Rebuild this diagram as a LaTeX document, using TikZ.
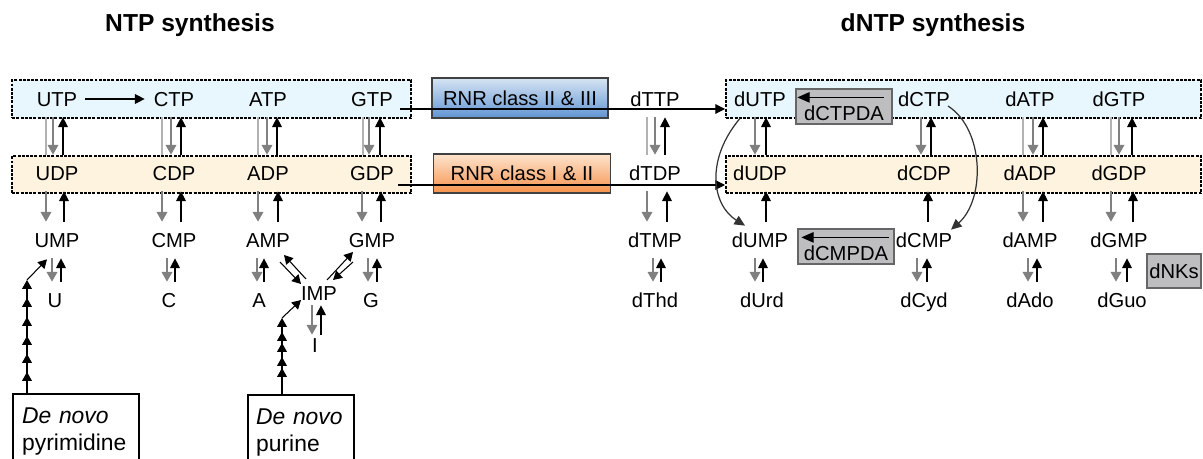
\documentclass[tikz,border=0pt]{standalone}
\usepackage{fontspec}
\setmainfont{Liberation Sans}
\usetikzlibrary{positioning}
\usetikzlibrary{calc}
\usetikzlibrary{arrows.meta}
\def\TriColor{rgb,255:red,232;green,246;blue,253}
\def\DiColor{rgb,255:red,254;green,243;blue,222}
\def\EnzColor{rgb,255:red,190;green,190;blue,192}
\def\BlueTop{rgb,255:red,214;green,228;blue,243}
\def\BlueBot{rgb,255:red,96;green,148;blue,210}
\def\OrangeTop{rgb,255:red,253;green,228;blue,206}
\def\OrangeBot{rgb,255:red,246;green,146;blue,76}

\begin{document}
\begin{tikzpicture}[x=0.02cm,y=-0.02cm,font=\fontsize{11.5}{14}\selectfont]
\tikzstyle{metab} = [inner sep=0pt, minimum height=0.72cm, text height=8.2pt, text depth=0pt]
\tikzstyle{trirow} = [rectangle, draw, fill=\TriColor, dash pattern=on 1.7pt off 0.7pt, line width=1.4pt, anchor=north west, minimum height=0.76cm]
\tikzstyle{dirow} = [rectangle, draw, fill=\DiColor, dash pattern=on 1.7pt off 0.7pt, line width=1.4pt, anchor=north west, minimum height=0.74cm]
\tikzstyle{rnrbox} = [rectangle, draw=black!75, line width=0.6pt, inner sep=0pt]
\tikzstyle{enzbox} = [rectangle, draw=black!60, fill=\EnzColor, line width=0.7pt, inner sep=0pt, minimum width=1.92cm, minimum height=0.7cm, text height=0.58cm, text depth=0pt]
\tikzstyle{denovobox} = [rectangle, draw, line width=1.4pt, anchor=north west, align=left, font=\fontsize{13}{15.3}\selectfont, inner ysep=0.27cm]
\tikzstyle{titletext} = [font=\fontsize{14}{16}\selectfont\bfseries]
\tikzstyle{connector} = [draw=black, line width=0.6pt, -{Triangle[length=5.5pt,width=5.5pt]}]
\tikzstyle{backarrow} = [draw=black!50, line width=0.9pt, -{Triangle[length=5.5pt,width=6pt]}]
\tikzstyle{sideline} = [draw=black!30, line width=0.8pt]
\tikzstyle{stackarrow} = [draw=black, line width=0.6pt, -{Triangle[length=5pt,width=5.5pt]}]
\tikzstyle{loopy} = [draw=black!80, line width=0.7pt, -{Triangle[length=6pt,width=5.5pt]}]

\useasboundingbox (0,0) rectangle (1203,459);

\node[titletext] (ntptitle) at (190,25) {NTP synthesis};
\node[titletext] (dntptitle) at (933,25) {dNTP synthesis};

\node[trirow, minimum width=7.98cm] (ntpbox) at (11,79) {};
\node[dirow, minimum width=7.98cm] (ndpbox) at (11,155) {};
\node[trirow, minimum width=9.5cm] (dntpbox) at (725,79) {};
\node[dirow, minimum width=9.5cm] (dndpbox) at (725,155) {};

\node[rnrbox, top color=\BlueTop, bottom color=\BlueBot, minimum width=3.52cm, minimum height=0.8cm] (rnr23) at (520,98) {RNR class II \& III};
\node[rnrbox, top color=\OrangeTop, bottom color=\OrangeBot, minimum width=3.54cm, minimum height=0.78cm] (rnr12) at (522,173.5) {RNR class I \& II};

\foreach \n/\x in {UTP/57,CTP/174,ATP/268,GTP/372,dTTP/655,dUTP/760,dCTP/924,dATP/1030,dGTP/1119}
  \node[metab] (\n) at (\x,99) {\n};
\foreach \n/\x in {UDP/57,CDP/174,ADP/268,GDP/372,dTDP/655,dUDP/760,dCDP/924,dADP/1030,dGDP/1119}
  \node[metab] (\n) at (\x,173) {\n};
\foreach \n/\x in {UMP/57,CMP/174,AMP/268,GMP/372,dTMP/655,dUMP/760,dCMP/924,dAMP/1030,dGMP/1119}
  \node[metab] (\n) at (\x,240) {\n};
\foreach \n/\x in {U/55,C/169,A/259,G/371,dThd/655,dUrd/762,dCyd/924,dAdo/1030,dGuo/1122}
  \node[metab] (\n) at (\x,300) {\n};
\node[metab, minimum height=0.48cm] (IMP) at (319,293) {IMP};
\node[metab, minimum height=0.4cm] (I) at (315,345) {I};

% plain grey lines next to the arrows
\foreach \a/\b/\o in {UTP/UDP/-11,CTP/CDP/-12,ATP/ADP/-10,GTP/GDP/-9,dTTP/dTDP/-8,dATP/dADP/-7,dGTP/dGDP/-8}
  \path[sideline] ($(\a.south)+(\o,0)$) -- ($(\b.north -| \a)+(\o,0)$);

% grey arrows down
\foreach \a/\b/\o in {UTP/UDP/-4,CTP/CDP/-3,ATP/ADP/-1,GTP/GDP/-3,
  UDP/UMP/-11,CDP/CMP/-12,ADP/AMP/-10,GDP/GMP/-10,
  UMP/U/-5,CMP/C/-7,AMP/A/-11,GMP/G/-4,IMP/I/-7,
  dTTP/dTDP/0,dTDP/dTMP/-8,dTMP/dThd/-2,
  dUTP/dUDP/-5,dCTP/dCDP/-3,dATP/dADP/3,dGTP/dGDP/0,
  dADP/dAMP/-7,dGDP/dGMP/-8,
  dUMP/dUrd/-5,dCMP/dCyd/-7,dAMP/dAdo/-2,dGMP/dGuo/-3}
  \path[backarrow] ($(\a.south)+(\o,0)$) -- ($(\b.north -| \a)+(\o,0)$);

% black arrows up
\foreach \a/\b/\o in {UTP/UDP/6,CTP/CDP/7,ATP/ADP/9,GTP/GDP/8,
  UDP/UMP/7,CDP/CMP/7,ADP/AMP/10,GDP/GMP/9,
  UMP/U/4,CMP/C/1,AMP/A/-4,GMP/G/5,IMP/I/2,
  dTTP/dTDP/10,dTDP/dTMP/12,dTMP/dThd/6,
  dUTP/dUDP/6,dCTP/dCDP/7,dATP/dADP/13,dGTP/dGDP/13,
  dUDP/dUMP/6,dCDP/dCMP/4,dADP/dAMP/13,dGDP/dGMP/14,
  dUMP/dUrd/3,dCMP/dCyd/3,dAMP/dAdo/7,dGMP/dGuo/8}
  \path[connector] ($(\b.north -| \a)+(\o,0)$) -- ($(\a.south)+(\o,0)$);

\path[connector, shorten <=4.5pt, shorten >=5pt] (UTP) -- (CTP);

\coordinate (gtpout) at ($(GTP.east)+(7,10)$);
\coordinate (gdpout) at ($(GDP.east)+(4,12)$);
\path[connector] (gtpout) -- (gtpout -| dntpbox.west);
\path[connector] (gdpout) -- (gdpout -| dndpbox.west);

\path[loopy] ($(dUTP.south)+(-20,1)$) .. controls (705,160) and (712,205) .. ($(dUMP.north)+(-15,4)$);
\path[loopy] ($(dCTP)+(24,7)$) .. controls (985,130) and (985,200) .. ($(dCMP.north)+(27,8)$);

\node[enzbox] (dctpda) at (844,106.5) {dCTPDA};
\node[enzbox] (dcmpda) at (846,246.5) {dCMPDA};
\node[enzbox, minimum width=1.08cm, minimum height=0.68cm, text height=8.2pt] (dnks) at (1174,271) {dNKs};
\path[connector, -{Triangle[length=7pt,width=6pt]}] ($(dctpda.north east)+(-9,9)$) -- ($(dctpda.north west)+(2,9)$);
\path[connector, -{Triangle[length=7pt,width=6pt]}] ($(dcmpda.north east)+(-6,9)$) -- ($(dcmpda.north west)+(4,9)$);

% IMP exchanges
\path[stackarrow] ($(IMP)+(-13,-14)$) -- ($(AMP)+(16,15)$);
\path[stackarrow] ($(AMP)+(12,22)$) -- ($(IMP)+(-18,-9)$);
\path[stackarrow] ($(IMP)+(8,-13)$) -- ($(GMP)+(-19,12)$);
\path[stackarrow] ($(GMP)+(-19,22)$) -- ($(IMP)+(14,-13)$);

% de novo routes
\node[denovobox, text width=2.16cm, inner xsep=0.18cm] (pyr) at (12,393) {\textit{De novo}\\pyrimidine};
\node[denovobox, text width=1.8cm, inner xsep=0.16cm] (pur) at (247,394) {\textit{De novo}\\purine};

\coordinate (pyrtop) at (27,280);
\coordinate (purtop) at (282,318);
\path[stackarrow] (pyr.north -| pyrtop) -- (pyrtop);
\foreach \d in {18,37,56,74,92}
  \path[stackarrow] ($(pyrtop)+(0,\d+8)$) -- ($(pyrtop)+(0,\d)$);
\path[stackarrow] (pyrtop) -- ($(UMP.south)+(-10,1)$);
\path[stackarrow] (pur.north -| purtop) -- (purtop);
\foreach \d in {14,25,39,50}
  \path[stackarrow] ($(purtop)+(0,\d+8)$) -- ($(purtop)+(0,\d)$);
\path[stackarrow] (purtop) -- ($(IMP)+(-18,7)$);

\end{tikzpicture}
\end{document}
